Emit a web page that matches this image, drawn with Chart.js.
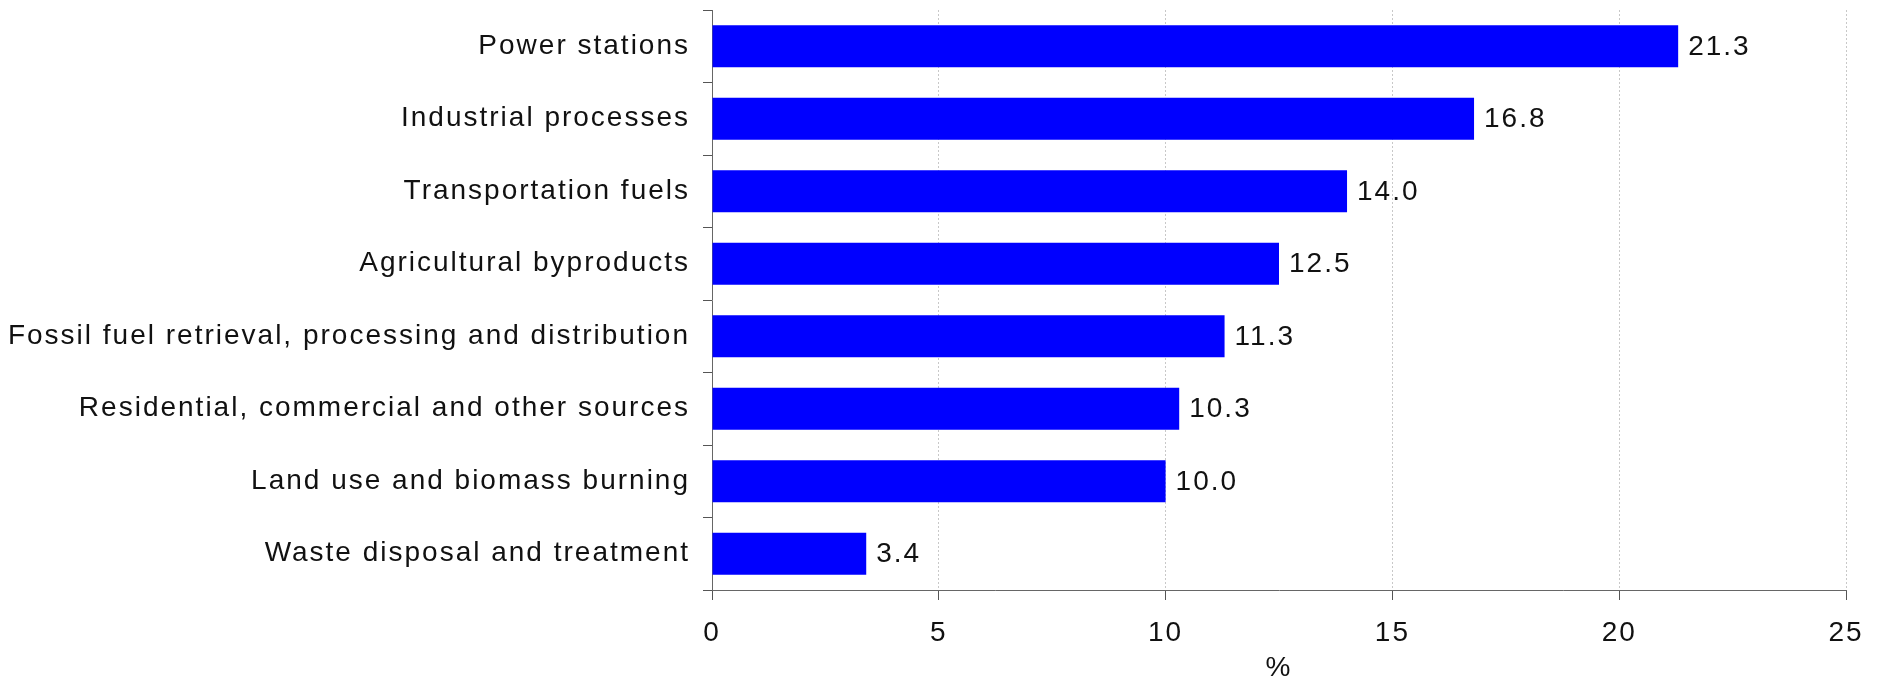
<!DOCTYPE html>
<html>
<head>
<meta charset="utf-8">
<script src="https://cdn.jsdelivr.net/npm/chart.js@4.4.1/dist/chart.umd.min.js"></script>
<style>
  html, body { margin: 0; padding: 0; background: #fff; }
  #wrap { width: 1883px; height: 687px; }
</style>
</head>
<body>
<div id="wrap"><canvas id="sourcesChart"></canvas></div>
<script>
// emission sources, share in percent
const sources = [
  'Power stations',
  'Industrial processes',
  'Transportation fuels',
  'Agricultural byproducts',
  'Fossil fuel retrieval, processing and distribution',
  'Residential, commercial and other sources',
  'Land use and biomass burning',
  'Waste disposal and treatment'
];
const shares = [21.3, 16.8, 14.0, 12.5, 11.3, 10.3, 10.0, 3.4];
const xTicks = [0, 5, 10, 15, 20, 25];

const FONT = "'Liberation Sans', Arial, sans-serif";
const FONT_SIZE = 28;

// wider tracking for all canvas text (re-applied since resizing resets ctx state)
Chart.register({
  id: 'tracking',
  beforeUpdate(chart) { chart.ctx.letterSpacing = '2px'; },
  beforeDraw(chart) { chart.ctx.letterSpacing = '2px'; }
});

// value text to the right of each bar
Chart.register({
  id: 'barValues',
  afterDatasetsDraw(chart) {
    const ctx = chart.ctx;
    const meta = chart.getDatasetMeta(0);
    ctx.save();
    ctx.fillStyle = '#111';
    ctx.font = `${FONT_SIZE}px ${FONT}`;
    ctx.textAlign = 'left';
    ctx.textBaseline = 'middle';
    meta.data.forEach((bar, i) => {
      ctx.fillText(shares[i].toFixed(1), bar.x + 10, bar.y + 1);
    });
    ctx.restore();
  }
});

const ctx = document.getElementById('sourcesChart').getContext('2d');
new Chart(ctx, {
  type: 'bar',
  data: {
    labels: sources,
    datasets: [{
      data: shares,
      backgroundColor: '#0000ff',
      borderWidth: 0,
      barPercentage: 0.58,
      categoryPercentage: 1
    }]
  },
  options: {
    indexAxis: 'y',
    responsive: true,
    maintainAspectRatio: false,
    animation: false,
    devicePixelRatio: 1,
    layout: { padding: { top: 10, right: 37, left: 0, bottom: 0 } },
    plugins: {
      legend: { display: false },
      tooltip: { enabled: false }
    },
    scales: {
      x: {
        min: 0,
        max: 25,
        afterBuildTicks(scale) {
          scale.ticks = xTicks.map(v => ({ value: v }));
        },
        grid: {
          color: ctx => ctx.tick && ctx.tick.value === 0 ? 'rgba(0,0,0,0)' : '#c8c8c8',
          lineWidth: 1,
          tickLength: 10,
          tickColor: '#555',
          tickBorderDash: []
        },
        border: { display: true, color: '#666', width: 1, dash: [2, 2] },
        ticks: {
          color: '#111',
          font: { family: FONT, size: FONT_SIZE },
          padding: 16,
          maxRotation: 0
        },
        title: {
          display: true,
          text: '%',
          color: '#111',
          font: { family: FONT, size: FONT_SIZE },
          padding: { top: 0, bottom: 2 }
        },
        afterFit(scale) { scale.height = 97; }
      },
      y: {
        grid: {
          drawOnChartArea: false,
          offset: true,
          tickLength: 9,
          tickColor: '#555',
          tickBorderDash: []
        },
        border: { display: true, color: '#666', width: 1 },
        ticks: {
          color: '#111',
          font: { family: FONT, size: FONT_SIZE },
          padding: 13,
          autoSkip: false
        },
        afterFit(scale) {
          scale.width = 712;
          scale.paddingTop = 0;
          scale.paddingBottom = 0;
        }
      }
    }
  }
});
</script>
</body>
</html>
